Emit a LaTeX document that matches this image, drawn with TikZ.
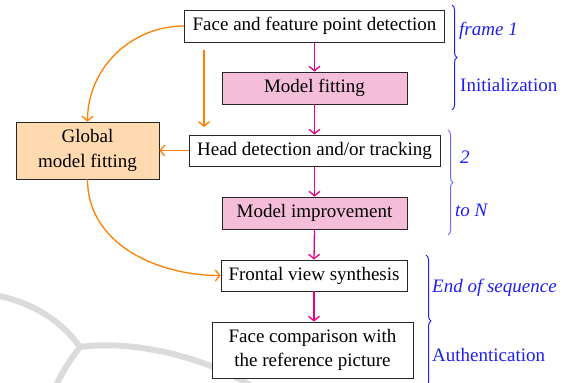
\documentclass[tikz,border=0pt]{standalone}
\usepackage{fontspec}
\setmainfont{Liberation Serif}
\newfontfamily\diagserif{Liberation Serif}
\usetikzlibrary{arrows.meta,decorations.pathreplacing}
\definecolor{pinkarrow}{RGB}{232,0,130}
\definecolor{pinkfill}{RGB}{245,190,216}
\definecolor{orangearrow}{RGB}{255,128,0}
\definecolor{orangefill}{RGB}{255,218,176}
\definecolor{labelblue}{RGB}{30,30,245}
\definecolor{bracelight}{RGB}{110,110,255}
\begin{document}
\begin{tikzpicture}[x=1pt,y=-1pt,
  every node/.style={font=\diagserif\fontsize{19}{24.5}\selectfont},
  box/.style={draw=black!85, line width=0.8pt, fill=white, inner sep=0pt, align=center},
  pinkbox/.style={box, fill=pinkfill},
  orangebox/.style={box, fill=orangefill},
  pinkflow/.style={draw=pinkarrow, line width=1.3pt, -{Straight Barb[length=4.5pt,width=11pt]}},
  orangeflow/.style={draw=orangearrow, line width=1.3pt, -{Straight Barb[length=4.5pt,width=11pt]}},
  bracestyle/.style={decorate, decoration={brace, amplitude=5pt}, line width=1pt},
  lbl/.style={anchor=west, inner sep=0pt, text=labelblue},
  watermark/.style={draw=black!14, line width=6pt, line cap=round}
]
\useasboundingbox (0,0) rectangle (571,383);

% faint watermark swoosh
\draw[watermark] (-5,295) .. controls (35,303) and (62,322) .. (80,347);
\draw[watermark] (80,347) .. controls (130,340) and (200,355) .. (250,385);
\draw[watermark] (80,347) .. controls (70,360) and (62,372) .. (55,388);

% nodes
\node[box, minimum width=260pt, minimum height=32pt] (f1) at (314.5,26) {Face and feature point detection};
\node[pinkbox, minimum width=185pt, minimum height=32pt] (mf) at (314.5,88) {Model fitting};
\node[box, minimum width=251pt, minimum height=31pt] (hd) at (314.5,150.5) {Head detection and/or tracking};
\node[pinkbox, minimum width=185pt, minimum height=32pt] (mi) at (314.5,213) {Model improvement};
\node[box, minimum width=186pt, minimum height=31pt] (fv) at (314,275.5) {Frontal view synthesis};
\node[box, minimum width=201pt, minimum height=56pt] (fc) at (312.5,350) {Face comparison with\\the reference picture};
\node[orangebox, minimum width=143pt, minimum height=57pt] (gm) at (87.5,150.5) {Global\\model fitting};

% pink flow
\draw[pinkflow] (f1.south) -- (mf.north);
\draw[pinkflow] (mf.south) -- (hd.north);
\draw[pinkflow] (hd.south) -- (mi.north);
\draw[pinkflow] (mi.south) -- (fv.north);
\draw[pinkflow] (fv.south) -- (fv.south |- fc.north);

% orange flow
\coordinate (vs) at (204,50);
\coordinate (ve) at (204,127);
\draw[orangeflow] (f1.west) to[out=180,in=90] (gm.north);
\draw[orangeflow] (vs) -- (ve);
\draw[orangeflow] (hd.west) -- (gm.east);
\draw[orangeflow] (gm.south) to[out=-90,in=180] (fv.west);

% braces
\coordinate (b1a) at (452,5);   \coordinate (b1b) at (452,110);
\coordinate (b2a) at (448,130); \coordinate (b2b) at (448,235);
\coordinate (b3a) at (426,255); \coordinate (b3b) at (426,387);
\draw[bracestyle, draw=labelblue] (b1a) -- (b1b);
\draw[bracestyle, draw=bracelight] (b2a) -- (b2b);
\draw[bracestyle, draw=labelblue] (b3a) -- (b3b);

% labels
\node[lbl] (l1) at (459,31) {\itshape frame 1};
\node[lbl] (l2) at (460,85) {Initialization};
\node[lbl] (l3) at (460,157) {\itshape 2};
\node[lbl] (l4) at (455,210) {\itshape to N};
\node[lbl] (l5) at (432,288) {\itshape End of sequence};
\node[lbl] (l6) at (432,355) {Authentication};
\end{tikzpicture}
\end{document}
